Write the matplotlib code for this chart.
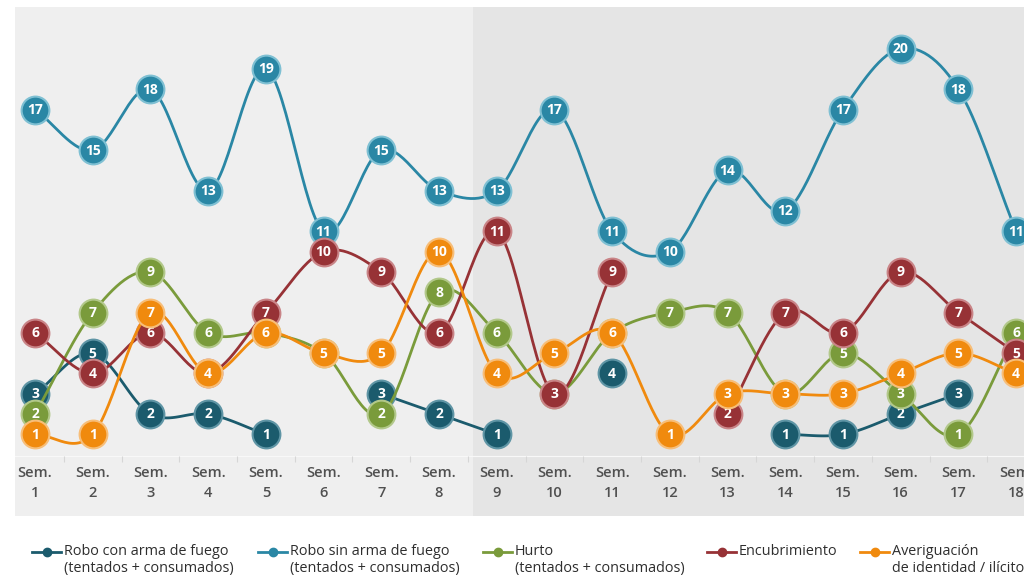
import numpy as np
import matplotlib
matplotlib.use("Agg")
import matplotlib.pyplot as plt
from matplotlib.lines import Line2D

plt.rcParams['font.family'] = ['Open Sans', 'DejaVu Sans']

# datos semanales (None = sin dato)
semanas = list(range(1, 19))
robo_con_arma = [3, 5, 2, 2, 1, None, 3, 2, 1, None, 4, None, None, 1, 1, 2, 3, None]
robo_sin_arma = [17, 15, 18, 13, 19, 11, 15, 13, 13, 17, 11, 10, 14, 12, 17, 20, 18, 11]
hurto = [2, 7, 9, 6, 6, 5, 2, 8, 6, 3, 6, 7, 7, 3, 5, 3, 1, 6]
encubrimiento = [6, 4, 6, 4, 7, 10, 9, 6, 11, 3, 9, None, 2, 7, 6, 9, 7, 5]
averiguacion = [1, 1, 7, 4, 6, 5, 5, 10, 4, 5, 6, 1, 3, 3, 3, 4, 5, 4]

nombres = ["Robo con arma de fuego\n(tentados + consumados)",
           "Robo sin arma de fuego\n(tentados + consumados)",
           "Hurto\n(tentados + consumados)",
           "Encubrimiento",
           "Averiguación\nde identidad / ilícito"]
series = [robo_con_arma, robo_sin_arma, hurto, encubrimiento, averiguacion]
colores = ["#1b5b6d", "#2a87a5", "#7a9b3b", "#973236", "#f08a0e"]
bordes = ["#5f95a5", "#7fc0d3", "#b2c88a", "#c98487", "#f7be79"]


def tramos(xs, ys):
    # separa la serie en tramos continuos
    run = []
    for x, y in zip(xs, ys):
        if y is None:
            if run:
                yield run
            run = []
        else:
            run.append((x, y))
    if run:
        yield run


def curva(run, n=30):
    # spline Catmull-Rom entre los puntos del tramo
    p = np.array(run, dtype=float)
    if len(p) < 2:
        return p[:, 0], p[:, 1]
    ext = np.vstack([2 * p[0] - p[1], p, 2 * p[-1] - p[-2]])
    xs_out, ys_out = [], []
    for i in range(1, len(ext) - 2):
        p0, p1, p2, p3 = ext[i - 1], ext[i], ext[i + 1], ext[i + 2]
        t = np.linspace(0, 1, n)[:, None]
        m1 = (p2 - p0) / 2
        m2 = (p3 - p1) / 2
        h00 = 2 * t**3 - 3 * t**2 + 1
        h10 = t**3 - 2 * t**2 + t
        h01 = -2 * t**3 + 3 * t**2
        h11 = t**3 - t**2
        seg = h00 * p1 + h10 * m1 + h01 * p2 + h11 * m2
        xs_out.extend(seg[:, 0])
        ys_out.extend(seg[:, 1])
    return np.array(xs_out), np.array(ys_out)


fig = plt.figure(figsize=(10.24, 5.77), dpi=100)
ax = fig.add_axes([15 / 1024, 61 / 577, 1045 / 1024, 509 / 577])
ax.set_xlim(0.653, 18.76)
ax.set_ylim(-3.02, 22.05)
ax.axis('off')

ax.axvspan(0.653, 8.59, color="#efefef", zorder=0, lw=0)
ax.axvspan(8.59, 18.76, color="#e5e5e5", zorder=0, lw=0)
ax.axhline(-0.05, color="#f8f8f8", lw=0.8, zorder=1)
ax.vlines(np.array(semanas[:-1]) + 0.5, -0.35, -0.05, color="#d6d6d6", lw=0.8, zorder=1)

for k in range(5):
    vals = series[k]
    z = 3 + k
    for run in tramos(semanas, vals):
        cx, cy = curva(run)
        ax.plot(cx, cy, color=colores[k], lw=2, zorder=z, solid_capstyle='round')
    for x, v in zip(semanas, vals):
        if v is None:
            continue
        ax.plot(x, v, 'o', ms=20, color=colores[k], mec=bordes[k], mew=1.5, zorder=z + 0.5)
        ax.text(x, v - 0.02, str(v), color="white", fontsize=10, fontweight='bold',
                ha='center', va='center', zorder=z + 0.6)

for x in semanas:
    ax.text(x, -0.9, "Sem.", color="#505050", fontsize=10.5, fontweight='semibold',
            ha='center', va='center')
    ax.text(x, -1.9, str(x), color="#505050", fontsize=10.5, fontweight='semibold',
            ha='center', va='center')

# leyenda manual
leg_x = [32, 258, 483, 707, 860]
for k in range(5):
    x0 = leg_x[k] / 1024
    y0 = 1 - 552 / 577
    fig.add_artist(Line2D([x0, x0 + 29 / 1024], [y0, y0], color=colores[k], lw=2,
                          transform=fig.transFigure))
    fig.add_artist(Line2D([x0 + 14.5 / 1024], [y0], marker='o', ms=6, color=colores[k],
                          transform=fig.transFigure))
    fig.text(x0 + 32 / 1024, 1 - 544 / 577, nombres[k], color="#2e2e2e", fontsize=10.4,
             ha='left', va='top', linespacing=1.15)

fig.savefig("out.png", dpi=100, facecolor="white")
